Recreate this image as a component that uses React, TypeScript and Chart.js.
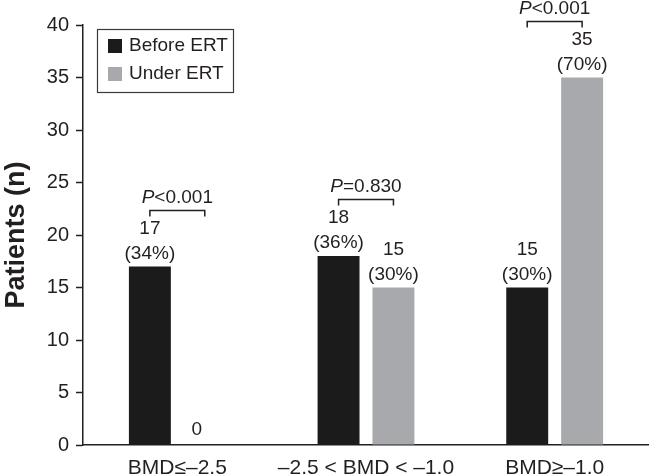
import React, { useEffect, useRef } from "react";
import { Chart, registerables } from "chart.js";

Chart.register(...registerables);

const categories = ["BMD≤–2.5", "–2.5 < BMD < –1.0", "BMD≥–1.0"];
const seriesNames = ["Before ERT", "Under ERT"];
const beforeValues = [17, 18, 15];
const underValues = [0, 15, 35];
const beforePercents = ["(34%)", "(36%)", "(30%)"];
const underPercents = ["", "(30%)", "(70%)"];
const pSigns = ["<0.001", "=0.830", "<0.001"];
const yTicks = [0, 5, 10, 15, 20, 25, 30, 35, 40];

const FONT = "'Liberation Sans', Arial, Helvetica, sans-serif";
const TEXT = "#231f20";
const BLACK = "#1b1b1c";
const GRAY = "#a7a9ac";
const ANN = 19;

const annotations = {
  id: "annotations",
  afterDatasetsDraw(chart: any) {
    const ctx = chart.ctx;
    const area = chart.chartArea;
    const percents = [beforePercents, underPercents];
    const m0 = chart.getDatasetMeta(0);
    const m1 = chart.getDatasetMeta(1);
    ctx.save();
    ctx.fillStyle = TEXT;
    ctx.strokeStyle = TEXT;
    ctx.font = `${ANN}px ${FONT}`;
    ctx.textAlign = "center";
    ctx.textBaseline = "middle";
    [m0, m1].forEach((meta: any, di: number) => {
      const vals = chart.data.datasets[di].data;
      meta.data.forEach((el: any, i: number) => {
        const v = vals[i];
        const pct = percents[di][i];
        if (pct) {
          ctx.fillText(String(v), el.x, el.y - 38);
          ctx.fillText(pct, el.x, el.y - 13);
        } else {
          ctx.fillText(String(v), el.x - 8, el.y - 15);
        }
      });
    });
    // brackets with P values
    ctx.lineWidth = 1.5;
    categories.forEach((_c, i) => {
      const a = m0.data[i];
      const b = m1.data[i];
      const top = Math.min(a.y, b.y);
      const by = Math.round(top - 57) + 0.5;
      ctx.beginPath();
      ctx.moveTo(a.x, by + 6);
      ctx.lineTo(a.x, by);
      ctx.lineTo(b.x, by);
      ctx.lineTo(b.x, by + 6);
      ctx.stroke();
      const ty = by - 12.5;
      ctx.font = `italic ${ANN}px ${FONT}`;
      const wP = ctx.measureText("P").width;
      ctx.font = `${ANN}px ${FONT}`;
      const wR = ctx.measureText(pSigns[i]).width;
      const cx = (a.x + b.x) / 2;
      const start = cx - (wP + wR) / 2;
      ctx.textAlign = "left";
      ctx.font = `italic ${ANN}px ${FONT}`;
      ctx.fillText("P", start, ty);
      ctx.font = `${ANN}px ${FONT}`;
      ctx.fillText(pSigns[i], start + wP, ty);
      ctx.textAlign = "center";
    });
    // legend box
    const lx = area.left + 14;
    const ly = area.top + 4;
    ctx.lineWidth = 1.2;
    ctx.strokeStyle = "#3a3a3a";
    ctx.strokeRect(lx + 0.5, ly + 0.5, 136, 63);
    chart.data.datasets.forEach((ds: any, i: number) => {
      const rowY = ly + 17 + i * 28;
      ctx.fillStyle = ds.backgroundColor;
      ctx.fillRect(lx + 11, rowY - 7, 14, 14);
      ctx.fillStyle = TEXT;
      ctx.textAlign = "left";
      ctx.font = `${ANN}px ${FONT}`;
      ctx.fillText(ds.label, lx + 32, rowY);
    });
    ctx.restore();
  },
};

export default function App() {
  const ref = useRef<HTMLCanvasElement>(null);
  useEffect(() => {
    if (!ref.current) return;
    const chart = new Chart(ref.current, {
      type: "bar",
      data: {
        labels: categories,
        datasets: [
          {
            label: seriesNames[0],
            data: beforeValues,
            backgroundColor: BLACK,
            categoryPercentage: 0.582,
            barPercentage: 0.764,
          },
          {
            label: seriesNames[1],
            data: underValues,
            backgroundColor: GRAY,
            categoryPercentage: 0.582,
            barPercentage: 0.764,
          },
        ],
      },
      options: {
        responsive: false,
        animation: false,
        layout: { padding: { top: 25, left: 0, right: 0, bottom: 0 } },
        plugins: {
          legend: { display: false },
          tooltip: { enabled: false },
        },
        scales: {
          x: {
            grid: { display: false, drawTicks: false },
            border: { display: true, color: TEXT, width: 1.5 },
            ticks: {
              color: TEXT,
              font: { family: FONT, size: 21 },
              padding: 11,
              maxRotation: 0,
              autoSkip: false,
            },
            afterFit: (s: any) => {
              s.height = 31;
            },
          },
          y: {
            min: 0,
            max: 40,
            afterBuildTicks: (s: any) => {
              s.ticks = yTicks.map((v) => ({ value: v }));
            },
            grid: {
              drawOnChartArea: false,
              drawTicks: true,
              tickLength: 7,
              tickWidth: 1.5,
              tickColor: TEXT,
            },
            border: { display: true, color: TEXT, width: 1.5 },
            ticks: {
              color: TEXT,
              font: { family: FONT, size: 20 },
              padding: 7,
            },
            title: {
              display: true,
              text: "Patients (n)",
              color: TEXT,
              font: { family: FONT, size: 27, weight: "bold" },
              padding: 0,
            },
            afterFit: (s: any) => {
              s.width = 83;
            },
          },
        },
      },
      plugins: [annotations],
    });
    return () => chart.destroy();
  }, []);
  return (
    <div style={{ position: "absolute", left: 0, top: 0, width: 649, height: 476, background: "#fff" }}>
      <canvas ref={ref} width={649} height={476} />
    </div>
  );
}
